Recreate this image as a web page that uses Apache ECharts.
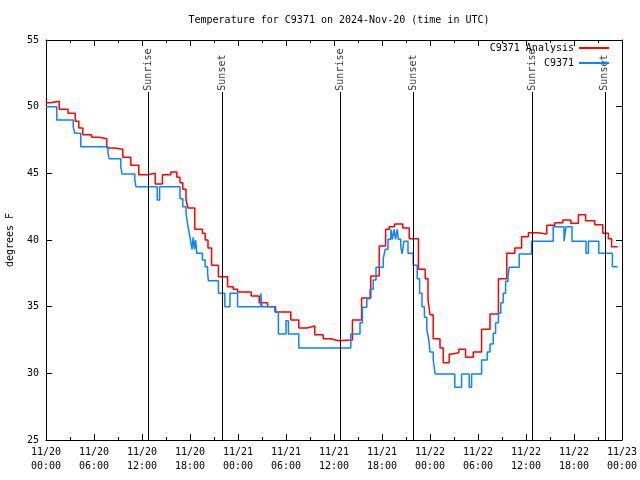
<!DOCTYPE html>
<html>
<head>
<meta charset="utf-8">
<script src="https://cdn.jsdelivr.net/npm/echarts@6/dist/echarts.min.js"></script>
<style>html,body{margin:0;padding:0;background:#fff}#c{width:640px;height:480px}</style>
</head>
<body>
<div id="c"></div>
<script>
// hours since 2024-11-20 00:00 UTC at which the value changes, and the value held from then
var analysisHours = [0,0.6,1.65,2.75,3.65,4.1,4.6,5.7,6.65,7.6,8.6,9.6,10.6,11.6,12.65,13.65,14.55,15.6,16.35,16.75,17.1,17.5,17.75,18.6,19.55,19.9,20.25,20.7,21.55,22.7,23.4,23.95,25.65,26.65,27.7,28.7,30.6,31.6,32.65,33.6,34.65,35.6,36.55,38.3,39.45,40.6,41.65,42.45,42.9,43.55,44.6,45.4,46.55,47.4,47.75,48.0,48.4,49.25,49.65,50.4,50.8,51.6,52.45,53.4,54.45,55.5,56.55,57.6,58.6,59.45,60.3,61.5,62.6,63.6,64.6,65.6,66.55,67.45,68.6,69.6,70.3,70.7,71.45];
var analysisTemps = [50.3,50.4,49.8,49.5,48.9,48.4,47.9,47.7,47.6,46.9,46.8,46.2,45.6,44.9,45.0,44.2,44.9,45.1,44.7,44.3,43.8,43.0,42.4,40.8,40.5,40.0,39.4,38.1,37.25,36.5,36.3,36.1,35.8,35.3,35.0,34.6,34.0,33.4,33.55,32.9,32.6,32.45,32.5,34.0,35.65,37.3,39.55,40.8,41.0,41.2,40.9,40.1,37.8,37.1,35.5,34.4,32.6,31.9,30.8,31.45,31.55,31.8,31.2,31.6,33.3,34.45,37.1,39.0,39.4,40.25,40.55,40.45,41.1,41.3,41.5,41.25,41.9,41.45,41.15,40.5,40.1,39.5,39.5];
var obsHours = [0,1.35,3.4,3.6,4.35,7.75,7.9,9.35,9.5,11.1,11.25,13.9,14.2,16.75,17.1,17.5,17.75,18.0,18.25,18.4,18.55,18.7,18.85,19.55,19.9,20.2,20.3,21.55,22.35,23.0,23.95,26.85,27.0,28.6,29.05,30.0,30.3,31.6,38.1,39.25,39.55,40.1,40.5,40.9,41.25,42.15,42.4,42.75,43.1,43.3,43.5,43.7,43.9,44.05,44.35,44.5,44.75,45.25,45.9,46.4,46.7,47.0,47.3,47.6,47.85,48.0,48.4,48.65,51.1,51.95,52.9,53.2,54.45,55.15,55.5,55.9,56.2,56.55,56.85,57.15,57.45,57.75,57.9,59.15,60.7,63.4,64.75,65.0,65.75,67.5,67.8,69.1,70.8,71.45];
var obsTemps = [50.0,49.0,48.5,48.0,47.0,46.5,46.1,45.5,44.95,44.5,44.0,43.0,44.0,43.1,42.5,42.0,41.0,40.2,39.3,40.2,39.3,40.0,39.0,38.5,38.0,37.5,36.95,36.0,35.0,36.0,35.0,36.0,35.0,34.6,32.95,33.95,32.95,31.9,32.95,33.8,34.95,35.6,36.3,37.0,37.95,38.6,39.3,40.05,40.8,40.05,40.8,40.05,40.8,40.05,39.5,38.95,39.9,39.0,38.1,37.1,36.0,35.0,34.2,33.3,32.5,31.6,31.0,29.95,28.95,29.95,28.95,29.95,31.0,31.6,32.2,33.0,33.8,34.5,35.3,36.0,36.9,37.3,37.95,38.95,39.9,41.0,39.9,41.0,39.9,39.0,39.9,39.0,38.0,38.0];
var eventHours = [12.75, 22.0, 36.75, 45.9, 60.75, 69.85];
var eventLabels = ['Sunrise','Sunset','Sunrise','Sunset','Sunrise','Sunset'];
var xTickLabels = ['11/20\n00:00','11/20\n06:00','11/20\n12:00','11/20\n18:00','11/21\n00:00','11/21\n06:00','11/21\n12:00','11/21\n18:00','11/22\n00:00','11/22\n06:00','11/22\n12:00','11/22\n18:00','11/23\n00:00'];
var yTicks = [25,30,35,40,45,50,55];

var FONT = 'DejaVu Sans Mono';
function pairs(h, v){ return h.map(function(x,i){ return [x, v[i]]; }); }
var chart = echarts.init(document.getElementById('c'), null, {renderer:'canvas'});
var axisBase = {
  type:'value', min:0, max:72, interval:6, minorTick:{show:true, splitNumber:2, length:3, lineStyle:{color:'#000'}},
  axisLine:{show:true, onZero:false, lineStyle:{color:'#000', width:1}},
  axisTick:{show:true, inside:true, length:6, lineStyle:{color:'#000'}},
  splitLine:{show:false}
};
var yBase = {
  type:'value', min:yTicks[0], max:yTicks[yTicks.length-1], interval:5,
  axisLine:{show:true, onZero:false, lineStyle:{color:'#000', width:1}},
  axisTick:{show:true, inside:true, length:6, lineStyle:{color:'#000'}},
  splitLine:{show:false}
};
chart.setOption({
  animation:false,
  backgroundColor:'#fff',
  title:{text:'Temperature for C9371 on 2024-Nov-20 (time in UTC)', left:334, textAlign:'center', top:10,
    textStyle:{fontFamily:FONT, fontSize:10, fontWeight:'normal', color:'#000'}},
  legend:{data:['C9371 Analysis','C9371'], orient:'vertical', right:30, top:43, padding:0, align:'right',
    itemWidth:30, itemHeight:10, itemGap:5, itemStyle:{opacity:0},
    textStyle:{fontFamily:FONT, fontSize:10, color:'#000'}},
  grid:{left:46, right:18, top:40, bottom:40, containLabel:false, outerBoundsMode:'none'},
  xAxis:[
    Object.assign({}, axisBase, {position:'bottom',
      axisLabel:{show:true, margin:5, lineHeight:14, fontFamily:FONT, fontSize:10, color:'#000',
        formatter:function(v){ return xTickLabels[Math.round(v/6)]; }}}),
    Object.assign({}, axisBase, {position:'top', axisLabel:{show:false}})
  ],
  yAxis:[
    Object.assign({}, yBase, {position:'left', name:'degrees F', nameLocation:'middle', nameGap:31,
      nameTextStyle:{fontFamily:FONT, fontSize:10, color:'#000'},
      axisLabel:{show:true, margin:7, fontFamily:FONT, fontSize:10, color:'#000'}}),
    Object.assign({}, yBase, {position:'right', axisLabel:{show:false}})
  ],
  series:[
    {name:'C9371 Analysis', type:'line', step:'end', symbol:'none', color:'#ff0000',
      lineStyle:{width:1.5, color:'#ff0000'}, data:pairs(analysisHours, analysisTemps),
      markLine:{silent:true, symbol:'none', label:{show:false}, lineStyle:{color:'#000', width:1, type:'solid'},
        data:eventHours.map(function(h){ return [{coord:[h,25]},{coord:[h,51.1]}]; })}},
    {name:'C9371', type:'line', step:'end', symbol:'none', color:'#0a84ff',
      lineStyle:{width:1.5, color:'#0a84ff'}, data:pairs(obsHours, obsTemps)},
    {name:'events', type:'scatter', symbolSize:0, silent:true,
      data:eventHours.map(function(h,i){ return {value:[h,51.2], label:{formatter:eventLabels[i]}}; }),
      label:{show:true, position:'inside', rotate:90, align:'left', verticalAlign:'middle',
        fontFamily:FONT, fontSize:10, color:'#000'}}
  ]
});
</script>
</body>
</html>
